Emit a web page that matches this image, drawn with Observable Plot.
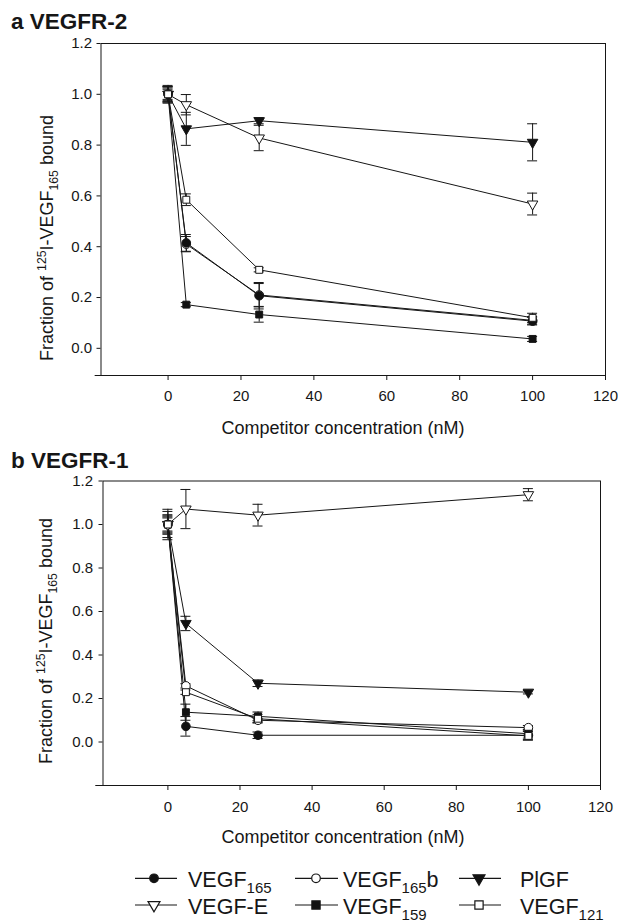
<!DOCTYPE html>
<html><head><meta charset="utf-8">
<script src="https://cdn.jsdelivr.net/npm/d3@7"></script>
<script src="https://cdn.jsdelivr.net/npm/@observablehq/plot@0.6"></script>
<style>
body{margin:0;background:#fff;}
#root{position:relative;width:618px;height:922px;font-family:"Liberation Sans",Arial,sans-serif;color:#1a1a1a;}
#root > svg{position:absolute;left:0;}
</style></head>
<body><div id="root"></div>
<script>
// ---------- data ----------
const conc = [0, 5, 25, 100];
const seriesNames = ["VEGF165", "VEGF165b", "PlGF", "VEGF-E", "VEGF159", "VEGF121"];
const xTicks = [0, 20, 40, 60, 80, 100, 120];
const yTicks = [0, 0.2, 0.4, 0.6, 0.8, 1.0, 1.2];

// Panel a: VEGFR-2 (mean fraction bound, +/- error)
const r2_VEGF165      = [1.00, 0.415, 0.207, 0.107];
const r2_VEGF165_err  = [0.030, 0.033, 0.052, 0.015];
const r2_VEGF165b     = [1.00, 0.410, 0.210, 0.110];
const r2_VEGF165b_err = [0.035, 0.030, 0.045, 0.015];
const r2_PlGF         = [1.00, 0.864, 0.896, 0.811];
const r2_PlGF_err     = [0.020, 0.065, 0.012, 0.073];
const r2_VEGFE        = [1.00, 0.959, 0.828, 0.568];
const r2_VEGFE_err    = [0.030, 0.040, 0.050, 0.043];
const r2_VEGF159      = [1.00, 0.172, 0.133, 0.037];
const r2_VEGF159_err  = [0.030, 0.008, 0.030, 0.010];
const r2_VEGF121      = [1.00, 0.585, 0.309, 0.120];
const r2_VEGF121_err  = [0.025, 0.023, 0.008, 0.018];

// Panel b: VEGFR-1
const r1_VEGF165      = [1.00, 0.072, 0.031, 0.031];
const r1_VEGF165_err  = [0.070, 0.045, 0.015, 0.020];
const r1_VEGF165b     = [1.00, 0.258, 0.100, 0.066];
const r1_VEGF165b_err = [0.040, 0.010, 0.010, 0.010];
const r1_PlGF         = [1.00, 0.545, 0.270, 0.229];
const r1_PlGF_err     = [0.045, 0.033, 0.015, 0.008];
const r1_VEGFE        = [1.00, 1.071, 1.043, 1.137];
const r1_VEGFE_err    = [0.035, 0.090, 0.050, 0.028];
const r1_VEGF159      = [1.00, 0.137, 0.118, 0.038];
const r1_VEGF159_err  = [0.060, 0.037, 0.020, 0.020];
const r1_VEGF121      = [1.00, 0.229, 0.107, 0.028];
const r1_VEGF121_err  = [0.030, 0.010, 0.020, 0.020];

// ---------- build tables ----------
function tidy(vals, errs) {
  const out = [];
  seriesNames.forEach(s => conc.forEach((c, i) => out.push({series: s, x: c, y: vals[s][i], e: errs[s][i]})));
  return out;
}
const dataA = tidy(
  {"VEGF165": r2_VEGF165, "VEGF165b": r2_VEGF165b, "PlGF": r2_PlGF, "VEGF-E": r2_VEGFE, "VEGF159": r2_VEGF159, "VEGF121": r2_VEGF121},
  {"VEGF165": r2_VEGF165_err, "VEGF165b": r2_VEGF165b_err, "PlGF": r2_PlGF_err, "VEGF-E": r2_VEGFE_err, "VEGF159": r2_VEGF159_err, "VEGF121": r2_VEGF121_err});
const dataB = tidy(
  {"VEGF165": r1_VEGF165, "VEGF165b": r1_VEGF165b, "PlGF": r1_PlGF, "VEGF-E": r1_VEGFE, "VEGF159": r1_VEGF159, "VEGF121": r1_VEGF121},
  {"VEGF165": r1_VEGF165_err, "VEGF165b": r1_VEGF165b_err, "PlGF": r1_PlGF_err, "VEGF-E": r1_VEGFE_err, "VEGF159": r1_VEGF159_err, "VEGF121": r1_VEGF121_err});

const style = {
  "VEGF165":  {symbol: "circle",   fill: "#111", r: 4.3, rotate: 0},
  "VEGF165b": {symbol: "circle",   fill: "#fff", r: 4.3, rotate: 0},
  "PlGF":     {symbol: "triangle", fill: "#111", r: 3.9, rotate: 180},
  "VEGF-E":   {symbol: "triangle", fill: "#fff", r: 3.9, rotate: 180},
  "VEGF159":  {symbol: "square",   fill: "#111", r: 3.9, rotate: 0},
  "VEGF121":  {symbol: "square",   fill: "#fff", r: 3.9, rotate: 0}
};
const ink = "#161616";

function panel(o) {
  const d = o.data;
  return Plot.plot({
    width: 618, height: o.height,
    marginTop: o.mt, marginBottom: o.mb, marginLeft: o.ml, marginRight: o.mr,
    style: {fontFamily: "'Liberation Sans', Arial, sans-serif", fontSize: "15px", color: ink, background: "transparent", overflow: "visible"},
    x: {domain: o.xDomain, label: null},
    y: {domain: o.yDomain, label: null},
    marks: [
      Plot.frame({stroke: ink, strokeWidth: 1}),
      Plot.ruleY([o.yDomain[0]], {x1: -20, x2: 120, stroke: ink}),
      Plot.axisX({ticks: xTicks, tickSize: 5, tickPadding: o.xPad, tickFormat: v => String(v), label: null, stroke: ink}),
      Plot.axisY({ticks: yTicks, tickSize: 4, tickPadding: o.yPad, tickFormat: d3.format(".1f"), label: null, stroke: ink}),
      Plot.line(d, {x: "x", y: "y", z: "series", stroke: ink, strokeWidth: 1}),
      Plot.ruleX(d, {x: "x", y1: v => v.y - v.e, y2: v => v.y + v.e, stroke: ink, strokeWidth: 1}),
      Plot.ruleY(d, {x1: "x", x2: "x", y: v => v.y + v.e, insetLeft: -5, insetRight: -5, stroke: ink, strokeWidth: 1}),
      Plot.ruleY(d, {x1: "x", x2: "x", y: v => v.y - v.e, insetLeft: -5, insetRight: -5, stroke: ink, strokeWidth: 1}),
      ...o.order.map(s => Plot.dot(d.filter(v => v.series === s), {
        x: "x", y: "y", symbol: style[s].symbol, fill: style[s].fill, stroke: ink,
        strokeWidth: 1, r: style[s].r, rotate: style[s].rotate
      }))
    ]
  });
}

const root = document.getElementById("root");
const pa = panel({data: dataA, height: 440, mt: 43, mb: 65, ml: 100.5, mr: 13,
  xDomain: [-18.4, 120], yDomain: [-0.107, 1.2], xPad: 10, yPad: 5,
  order: ["VEGF165b", "VEGF159", "VEGF165", "VEGF-E", "PlGF", "VEGF121"]});
pa.style.top = "0px";
root.appendChild(pa);
const pb = panel({data: dataB, height: 400, mt: 40.5, mb: 55, ml: 102.5, mr: 18,
  xDomain: [-18, 120], yDomain: [-0.2, 1.2], xPad: 11, yPad: 6,
  order: ["VEGF165b", "VEGF159", "VEGF165", "PlGF", "VEGF-E", "VEGF121"]});
pb.style.top = "440px";
root.appendChild(pb);

// ---------- overlay text + legend ----------
const svg = d3.select(root).append("svg").attr("width", 618).attr("height", 922)
  .style("top", "0px").style("pointer-events", "none")
  .style("font-family", "'Liberation Sans', Arial, sans-serif").attr("fill", ink);

svg.append("text").attr("x", 11).attr("y", 28.5).attr("font-size", 22.5).attr("font-weight", "bold").text("a VEGFR-2");
svg.append("text").attr("x", 11).attr("y", 468).attr("font-size", 22.5).attr("font-weight", "bold").text("b VEGFR-1");

svg.append("text").attr("x", 343).attr("y", 434).attr("font-size", 18).attr("text-anchor", "middle").text("Competitor concentration (nM)");
svg.append("text").attr("x", 343).attr("y", 843).attr("font-size", 18).attr("text-anchor", "middle").text("Competitor concentration (nM)");

function yLabel(x, yEnd, fs) {
  const t = svg.append("text").attr("transform", `translate(${x},${yEnd}) rotate(-90)`)
    .attr("text-anchor", "end").attr("font-size", fs);
  t.append("tspan").text("Fraction of ");
  t.append("tspan").attr("font-size", fs * 0.68).attr("dy", -fs * 0.38).text("125");
  t.append("tspan").attr("dy", fs * 0.38).text("I-VEGF");
  t.append("tspan").attr("font-size", fs * 0.68).attr("dy", fs * 0.25).text("165");
  t.append("tspan").attr("dy", -fs * 0.25).text(" bound");
}
yLabel(53, 115, 18);
yLabel(52, 518, 18);

// legend
const legendRows = [
  [{s: "VEGF165", main: "VEGF", sub: "165", tail: ""}, {s: "VEGF165b", main: "VEGF", sub: "165", tail: "b"}, {s: "PlGF", main: "PlGF", sub: "", tail: ""}],
  [{s: "VEGF-E", main: "VEGF-E", sub: "", tail: ""}, {s: "VEGF159", main: "VEGF", sub: "159", tail: ""}, {s: "VEGF121", main: "VEGF", sub: "121", tail: ""}]
];
const legendY = [878.3, 905];
const cols = [
  {l1: 135, l2: 177, m: 154, t: 188},
  {l1: 295, l2: 338, m: 316, t: 343},
  {l1: 459, l2: 501, m: 479, t: 520}
];
const symMap = {circle: d3.symbolCircle, triangle: d3.symbolTriangle, square: d3.symbolSquare};
const legSize = {circle: Math.PI * 4.3 * 4.3, triangle: 62, square: 68};
legendRows.forEach((row, ri) => row.forEach((it, ci) => {
  const y = legendY[ri], c = cols[ci], st = style[it.s];
  const g = svg.append("g");
  g.append("line").attr("x1", c.l1).attr("x2", c.l2).attr("y1", y).attr("y2", y).attr("stroke", ink).attr("stroke-width", 1.2);
  g.append("path").attr("d", d3.symbol(symMap[st.symbol], legSize[st.symbol])())
    .attr("transform", `translate(${c.m},${y}) rotate(${st.rotate})`)
    .attr("fill", st.fill).attr("stroke", ink).attr("stroke-width", 1.2);
  const t = g.append("text").attr("x", c.t).attr("y", y + 8.5).attr("font-size", 21.5);
  t.append("tspan").text(it.main);
  if (it.sub) t.append("tspan").attr("font-size", 15).attr("dy", 6).text(it.sub);
  if (it.tail) t.append("tspan").attr("dy", -6).text(it.tail);
}));
</script>
</body></html>
